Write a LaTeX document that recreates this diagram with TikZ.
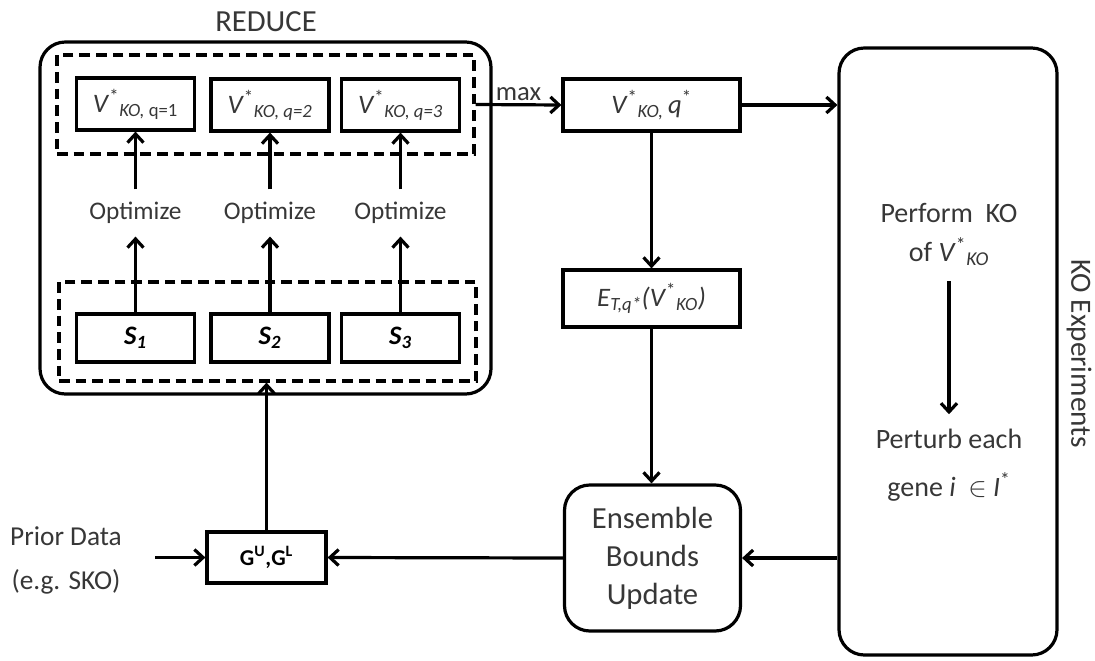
\documentclass[tikz,border=0pt]{standalone}
\usepackage{fontspec}
\setmainfont{Carlito}
\usetikzlibrary{arrows.meta,calc}
\newlength\pxu \setlength\pxu{0.75pt}
\definecolor{txt}{RGB}{55,55,55}
\tikzset{
 arr/.style={line width=2.4pt,-{Straight Barb[length=6.5pt,width=12pt]}},
 box/.style={draw,line width=2.4pt,inner sep=0pt,text=txt},
 dbox/.style={draw,line width=2.4pt,dash pattern=on 8pt off 4.5pt,inner sep=0pt},
 rbox/.style={draw,line width=2.4pt,rounded corners=19pt,inner sep=0pt,text=txt},
 lbl/.style={text=txt,inner sep=0pt},
 vfont/.style={font=\fontsize{20}{24}\selectfont},
 optlbl/.style={text=txt,inner xsep=0pt,inner ysep=9pt,font=\fontsize{19}{22}\selectfont,text height=13pt,text depth=4pt},
}
\begin{document}
\begin{tikzpicture}[x=0.75pt,y=-0.75pt]
\useasboundingbox (0,0) rectangle (1095,660);

% REDUCE block
\node[rbox,minimum width=451\pxu,minimum height=352\pxu] (reduce) at (265.5,218) {};
\node[lbl,font=\fontsize{23}{28}\selectfont] (redlbl) at (266,22) {REDUCE};
\node[dbox,minimum width=417\pxu,minimum height=99\pxu] (dtop) at (265.5,104.5) {};
\node[dbox,minimum width=417\pxu,minimum height=99\pxu] (dbot) at (267.5,331.5) {};

\node[box,vfont,minimum width=118\pxu,minimum height=52\pxu] (v1) at (135.5,104) {\textit{V}\textsuperscript{*}\textsubscript{\textit{KO,} q=1}};
\node[box,vfont,minimum width=118\pxu,minimum height=52\pxu] (v2) at (270,105) {\textit{V}\textsuperscript{*}\textsubscript{\textit{KO, q=2}}};
\node[box,vfont,minimum width=118\pxu,minimum height=52\pxu] (v3) at (400.5,105) {\textit{V}\textsuperscript{*}\textsubscript{\textit{KO, q=3}}};

\node[optlbl] (o1) at (135.5,213) {Optimize};
\node[optlbl] (o2) at (270,213) {Optimize};
\node[optlbl] (o3) at (400.5,213) {Optimize};

\node[box,text=black,font=\fontsize{20}{24}\selectfont\bfseries\itshape,minimum width=118\pxu,minimum height=48\pxu] (s1) at (135.5,338) {S\textsubscript{1}};
\node[box,text=black,font=\fontsize{20}{24}\selectfont\bfseries\itshape,minimum width=118\pxu,minimum height=48\pxu] (s2) at (270,338) {S\textsubscript{2}};
\node[box,text=black,font=\fontsize{20}{24}\selectfont\bfseries\itshape,minimum width=118\pxu,minimum height=48\pxu] (s3) at (400.5,338) {S\textsubscript{3}};

\foreach \i in {1,2,3}{
  \draw[arr] (s\i.north) -- (o\i.south);
  \draw[arr] (o\i.north) -- (v\i.south);
}

% middle column
\node[box,vfont,minimum width=177\pxu,minimum height=52\pxu] (vq) at (651.5,105) {\textit{V}\textsuperscript{*}\textsubscript{\textit{KO,}}\,\textit{q}\textsuperscript{*}};
\node[box,vfont,minimum width=177\pxu,minimum height=57\pxu] (eb) at (651.5,298.5) {\textit{E}\textsubscript{\textit{T,q*}}\textit{(V}\textsuperscript{*}\textsubscript{\textit{KO}}\textit{)}};
\node[rbox,align=center,font=\fontsize{23}{28.5}\selectfont,minimum width=176\pxu,minimum height=146\pxu] (ens) at (652.5,558) {Ensemble\\Bounds\\Update};

% KO experiments
\node[rbox,minimum width=218\pxu,minimum height=607\pxu] (ko) at (948,351.5) {};
\node[lbl,font=\fontsize{21}{25}\selectfont] (perf1) at (949,213) {Perform\ \ KO};
\node[lbl,font=\fontsize{21}{25}\selectfont,inner ysep=11pt] (perf2) at (949,252) {of \textit{V}\textsuperscript{*}\textsubscript{\textit{KO}}};
\node[lbl,font=\fontsize{21}{25}\selectfont,inner ysep=11pt] (pert1) at (949,439) {Perturb each};
\node[lbl,font=\fontsize{21}{25}\selectfont] (pert2) at (949,487) {gene \textit{i} \ $\in$ \textit{I}\textsuperscript{*}};
\draw[arr] (perf2.south) -- (pert1.north);
\node[lbl,font=\fontsize{22}{26}\selectfont,rotate=-90] (kolbl) at (1079,354) {KO Experiments};

% G box and prior data
\node[box,text=black,font=\fontsize{17}{20}\selectfont\bfseries,minimum width=119\pxu,minimum height=51\pxu] (g) at (266.5,557.5) {G\textsuperscript{U},G\textsuperscript{L}};
\node[lbl,align=center,font=\fontsize{20.5}{33}\selectfont] (prior) at (66,560) {Prior Data\\(e.g. SKO)};
\coordinate (pstart) at (155,557.5);

% connectors
\draw[arr] (dtop.east) -- node[lbl,above,yshift=2pt,font=\fontsize{20}{24}\selectfont,pos=0.5] (maxl) {max} (vq.west);
\draw[arr] (vq.east) -- (vq.east -| ko.west);
\draw[arr] (vq.south) -- (eb.north);
\draw[arr] (eb.south) -- (eb.south |- ens.north);
\draw[arr] (ens.east -| ko.west) -- (ens.east);
\draw[arr] (ens.west) -- (g.east);
\draw[arr] (pstart) -- (g.west);
\draw[arr] (g.north) -- (g.north |- dbot.south);
\end{tikzpicture}
\end{document}
